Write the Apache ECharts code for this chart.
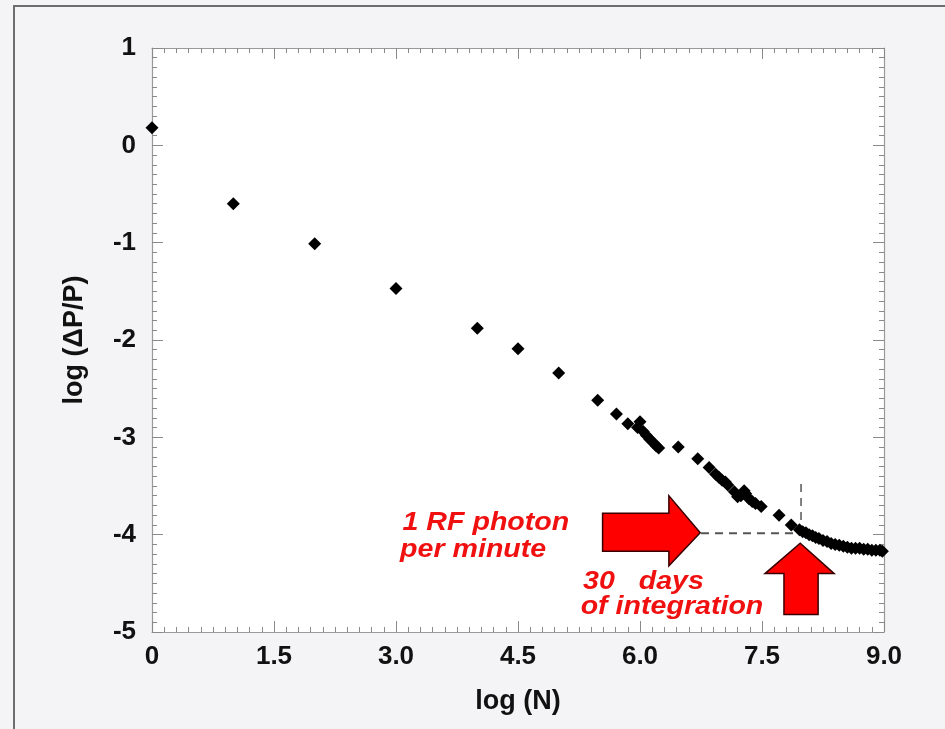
<!DOCTYPE html>
<html><head><meta charset="utf-8">
<script src="https://cdn.jsdelivr.net/npm/echarts@6/dist/echarts.min.js"></script>
<style>html,body{margin:0;padding:0;background:#f4f4f6;}#c{width:945px;height:729px;}</style>
</head><body><div id="c"></div>
<script>
// ---- data ----
const xTickLabels = ['0', '1.5', '3.0', '4.5', '6.0', '7.5', '9.0'];
const yTickLabels = ['-5', '-4', '-3', '-2', '-1', '0', '1'];
const logN = [0, 1.0, 2.0, 3.0, 4.0, 4.5, 5.0, 5.48, 5.71, 5.85, 5.97, 6.0, 6.04, 6.08, 6.12, 6.16, 6.20, 6.23,
  6.47, 6.71, 6.85, 6.93, 6.97, 7.01, 7.05, 7.08, 7.16, 7.20, 7.24, 7.28, 7.30, 7.34, 7.38, 7.42, 7.49,
  7.71, 7.86, 7.96, 8.0, 8.04, 8.08, 8.12, 8.16, 8.20, 8.25, 8.30, 8.35, 8.40, 8.45, 8.50, 8.55, 8.60,
  8.65, 8.70, 8.75, 8.80, 8.85, 8.90, 8.95, 8.98];
const logDP = [0.18, -0.60, -1.01, -1.47, -1.88, -2.09, -2.34, -2.62, -2.76, -2.86, -2.90, -2.84, -2.94, -2.98, -3.02, -3.05, -3.09, -3.11,
  -3.10, -3.22, -3.31, -3.38, -3.41, -3.44, -3.46, -3.49, -3.56, -3.61, -3.60, -3.55, -3.58, -3.63, -3.66, -3.68, -3.71,
  -3.80, -3.90, -3.95, -3.97, -3.98, -4.00, -4.01, -4.03, -4.04, -4.06, -4.07, -4.09, -4.10, -4.11, -4.12, -4.13, -4.14,
  -4.14, -4.14, -4.15, -4.15, -4.16, -4.16, -4.16, -4.17];
// annotation guides (data units)
const hGuide = [[6.75, -3.985], [7.89, -3.985]];
const vGuide = [[7.98, -3.48], [7.98, -3.93]];
// arrows as polygons in data units
const arrowRight = [[5.54, -3.78], [6.355, -3.78], [6.355, -3.60], [6.74, -3.98], [6.355, -4.32], [6.355, -4.17], [5.54, -4.17]];
const arrowUp = [[7.77, -4.82], [7.77, -4.40], [7.537, -4.40], [7.97, -4.087], [8.387, -4.40], [8.19, -4.40], [8.19, -4.82]];
const arrows = [arrowRight, arrowUp];
// annotation text lines
const noteTexts = ['1 RF photon', 'per minute', '30   days', 'of integration'];
const noteX = [3.08, 3.05, 5.30, 5.27];
const noteY = [-3.875, -4.16, -4.48, -4.74];

const FONT = '"Liberation Sans", Arial, Helvetica, sans-serif';
const points = logN.map((x, i) => [x, logDP[i]]);

const tickCommon = {
  axisLine: { show: true, onZero: false, lineStyle: { color: '#9a9a9a', width: 1.2 } },
  axisTick: { show: true, inside: true, length: 11, lineStyle: { color: '#8a8a8a', width: 1 } },
  minorTick: { show: true, splitNumber: 10, length: 5, lineStyle: { color: '#8a8a8a', width: 1 } },
  splitLine: { show: false }, minorSplitLine: { show: false }
};
const labelStyle = { fontFamily: FONT, fontSize: 26, fontWeight: 'bold', color: '#111' };

const chart = echarts.init(document.getElementById('c'), null, { renderer: 'canvas' });
chart.setOption({
  backgroundColor: '#f4f4f6',
  animation: false,
  grid: { left: 152, right: 61, top: 48, bottom: 97, show: true, backgroundColor: '#ffffff', borderWidth: 0 },
  graphic: [
    { type: 'line', shape: { x1: 13, y1: 6, x2: 945, y2: 6 }, style: { stroke: '#6e6e6e', lineWidth: 2 } },
    { type: 'line', shape: { x1: 14, y1: 6, x2: 14, y2: 729 }, style: { stroke: '#6e6e6e', lineWidth: 2 } }
  ],
  xAxis: [
    Object.assign({
      type: 'value', min: 0, max: 9, interval: 1.5, position: 'bottom',
      axisLabel: Object.assign({ margin: 12, formatter: v => xTickLabels[Math.round(v / 1.5)] }, labelStyle),
      name: 'log (N)', nameLocation: 'middle', nameGap: 56,
      nameTextStyle: { fontFamily: FONT, fontSize: 27, fontWeight: 'bold', color: '#111' }
    }, tickCommon),
    Object.assign({
      type: 'value', min: 0, max: 9, interval: 1.5, position: 'top', axisLabel: { show: false }
    }, tickCommon)
  ],
  yAxis: [
    Object.assign({
      type: 'value', min: -5, max: 1, interval: 1, position: 'left',
      axisLabel: Object.assign({ margin: 16, formatter: v => yTickLabels[Math.round(v + 5)] }, labelStyle),
      name: 'log (\u0394P/P)', nameLocation: 'middle', nameGap: 64, nameRotate: 90,
      nameTextStyle: { fontFamily: FONT, fontSize: 27, fontWeight: 'bold', color: '#111' }
    }, tickCommon),
    Object.assign({
      type: 'value', min: -5, max: 1, interval: 1, position: 'right', axisLabel: { show: false }
    }, tickCommon)
  ],
  series: [
    {
      type: 'line', data: hGuide, symbol: 'none', silent: true, z: 1,
      lineStyle: { color: '#555', width: 2, type: [8, 6] }
    },
    {
      type: 'line', data: vGuide, symbol: 'none', silent: true, z: 1,
      lineStyle: { color: '#555', width: 1.5, type: [8, 6] }
    },
    {
      type: 'scatter', data: points, symbol: 'diamond', symbolSize: 13, clip: false, z: 3,
      itemStyle: { color: '#000', opacity: 1 }
    },
    {
      type: 'custom', data: arrows.map((a, i) => [i]), z: 4, clip: false, silent: true,
      encode: { x: -1, y: -1 },
      renderItem: function (params, api) {
        const poly = arrows[params.dataIndex].map(p => api.coord(p));
        return { type: 'polygon', shape: { points: poly }, style: { fill: '#ff0000', stroke: '#3a0000', lineWidth: 1.5 } };
      }
    },
    {
      type: 'custom', data: noteTexts.map((t, i) => [i]), z: 5, clip: false, silent: true,
      encode: { x: -1, y: -1 },
      renderItem: function (params, api) {
        const i = params.dataIndex;
        const p = api.coord([noteX[i], noteY[i]]);
        return {
          type: 'text', x: p[0], y: p[1], scaleX: 1.1, originX: 0,
          style: {
            text: noteTexts[i], fill: '#f01010', font: 'italic bold 26px ' + FONT,
            textAlign: 'left', textVerticalAlign: 'middle', verticalAlign: 'middle'
          }
        };
      }
    }
  ]
});
</script>
</body></html>
